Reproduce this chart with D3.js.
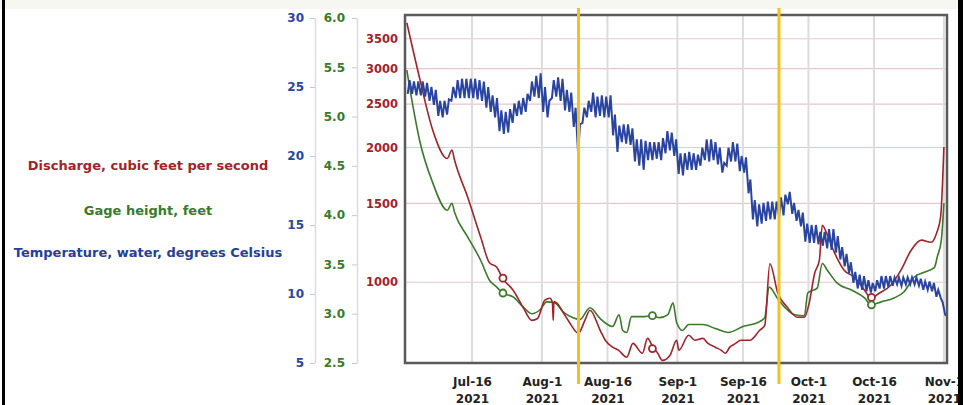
<!DOCTYPE html>
<html>
<head>
<meta charset="utf-8">
<script src="https://cdn.jsdelivr.net/npm/d3@7"></script>
<style>
  body { margin: 0; background: #fff; }
  svg { display: block; font-family: "DejaVu Sans", Verdana, sans-serif; }
  .tick text { font-weight: bold; }
</style>
</head>
<body>
<div id="chart"></div>
<script>
// daily water temperature, high and low of each day, Jul 1 .. Nov 1 2021
var tempHigh = [
  25.5,25.4,25.4,25.4,25.3,25.0,24.8,24.0,24.0,24.1,25.0,25.5,25.6,25.6,25.6,25.6,25.5,25.4,25.0,24.4,24.2,23.3,23.2,23.4,23.8,24.0,24.2,24.5,25.4,25.8,26.0,
  25.0,24.0,25.5,25.7,25.6,24.8,24.6,23.5,22.3,23.5,24.0,24.6,24.3,24.4,24.3,24.4,23.0,22.2,22.3,22.3,22.0,21.2,21.2,21.1,21.0,21.0,21.0,21.3,21.8,21.7,21.2,
  20.2,20.2,20.3,20.2,20.1,20.6,21.2,21.2,21.0,20.6,19.5,20.6,21.0,20.9,20.0,19.9,18.3,16.8,16.5,16.6,16.7,16.7,16.7,17.0,17.2,17.4,16.6,16.1,15.9,15.1,
  15.0,15.0,14.5,14.5,14.7,14.7,14.2,13.4,12.9,12.3,11.6,11.4,11.3,11.0,10.8,11.0,11.3,11.3,11.3,11.2,11.2,11.2,11.2,11.2,11.2,11.1,10.9,10.9,10.8,10.3,9.4,
  8.4
];
var tempLow = [
  24.5,24.5,24.4,24.4,24.3,24.0,23.7,22.9,22.8,23.0,24.0,24.2,24.2,24.2,24.2,24.2,24.1,24.0,23.5,23.2,22.8,21.8,21.6,21.7,22.4,22.9,23.0,23.2,24.0,24.3,24.2,
  23.2,22.8,24.2,24.3,24.0,23.3,23.2,22.1,20.1,22.4,22.8,23.2,22.8,22.9,22.8,22.8,21.5,20.3,21.0,20.9,20.8,19.6,19.3,19.0,19.7,19.7,19.8,19.7,20.2,20.4,20.0,
  18.7,18.6,19.0,19.0,19.0,19.3,19.7,19.6,19.7,19.4,18.8,19.3,19.6,19.6,18.9,18.8,17.3,15.4,14.9,15.1,15.3,15.4,15.4,15.6,15.7,16.5,15.8,15.3,14.9,13.8,
  13.7,13.7,13.6,13.5,13.3,13.2,13.0,12.5,12.0,11.5,10.8,10.4,10.3,10.2,10.1,10.2,10.4,10.4,10.5,10.6,10.7,10.6,10.7,10.7,10.7,10.6,10.3,10.3,10.2,9.8,9.7,
  8.5
];

var dischargeDates = [
  "07-01T02","07-04T00","07-07T00","07-10T08","07-11T10","07-12T00","07-15T00","07-18T00","07-20T00","07-21T16",
  "07-23T00","07-25T10","07-27T16","07-29T16","07-31T00","08-01T16","08-02T20","08-03T10","08-03T14","08-03T18",
  "08-04T10","08-05T20","08-07T10","08-09T08","08-10T20","08-12T00","08-14T08","08-15T12","08-17T04","08-18T12",
  "08-20T10","08-21T20","08-24T00","08-25T04","08-26T10","08-27T12","08-28T14","08-30T08","08-31T20","09-01T08",
  "09-03T14","09-05T00","09-06T20","09-08T00","09-09T16","09-11T00","09-12T00","09-13T00","09-14T08","09-15T12",
  "09-17T14","09-19T20","09-21T00","09-22T04","09-24T00","09-26T04","09-28T12","09-30T02","10-01T04","10-02T10",
  "10-03T12","10-04T04","10-05T08","10-07T00","10-09T04","10-11T12","10-13T20","10-15T08","10-17T04","10-19T20",
  "10-22T04","10-24T12","10-26T20","10-29T02","10-30T08","10-31T06","11-01T00"
];
var dischargeValues = [
  3800,2860,2190,1890,1975,1875,1550,1260,1105,1080,
  1020,960,880,822,830,912,921,900,822,905,
  898,857,810,769,822,866,781,742,716,705,
  680,730,694,749,716,694,669,687,742,705,
  761,742,749,730,716,705,694,716,730,742,
  742,781,801,1100,945,879,835,835,898,1047,
  1120,1341,1274,1162,1064,1026,960,921,945,985,
  1064,1179,1242,1228,1288,1400,2005
];

var gageDates = [
  "07-01T02","07-02T12","07-04T00","07-07T00","07-10T08","07-11T10","07-12T00","07-15T00","07-18T00","07-20T00",
  "07-21T16","07-23T00","07-25T10","07-27T16","07-29T16","07-31T14","08-02T02","08-04T00","08-05T20","08-08T02",
  "08-09T16","08-12T00","08-14T08","08-17T04","08-18T16","08-19T12","08-20T10","08-21T12","08-24T00","08-26T02",
  "08-28T00","08-29T20","08-31T00","08-31T20","09-02T04","09-03T14","09-06T20","09-09T16","09-12T16","09-16T00",
  "09-19T20","09-21T00","09-22T00","09-24T00","09-26T04","09-27T20","09-30T02","09-30T20","10-03T00","10-04T04",
  "10-05T08","10-07T14","10-10T20","10-13T20","10-15T08","10-17T16","10-20T14","10-22T20","10-25T04","10-27T12",
  "10-29T20","10-30T12","10-31T10","11-01T00"
];
var gageValues = [
  5.47,5.10,4.76,4.33,4.05,4.12,4.03,3.78,3.54,3.34,
  3.27,3.21,3.17,3.07,3.00,3.04,3.12,3.11,3.02,2.96,
  2.94,3.06,2.95,2.87,2.99,2.83,2.81,2.97,2.97,2.98,
  2.96,2.99,3.11,2.91,2.83,2.89,2.89,2.85,2.81,2.87,
  2.92,2.96,3.27,3.15,3.04,2.99,2.98,3.21,3.26,3.51,
  3.44,3.31,3.24,3.16,3.09,3.12,3.16,3.22,3.37,3.42,
  3.47,3.58,3.75,4.12
];

// field visit circles
var visitDates = ["07-23T02","08-26T07","10-15T10"];
var visitDischarge = [1021, 711, 925];
var visitGage = [3.21, 2.98, 3.09];

// yellow marker lines
var markerDates = ["08-09T09","09-24T06"];

var timeTicks = ["07-16","08-01","08-16","09-01","09-16","10-01","10-16","11-01"];
var dischargeTicks = [1000,1500,2000,2500,3000,3500];
var gageTicks = [2.5,3.0,3.5,4.0,4.5,5.0,5.5,6.0];
var tempTicks = [5,10,15,20,25,30];

var labels = [
  {text: "Discharge, cubic feet per second", color: "#a1232a"},
  {text: "Gage height, feet", color: "#3a7a2a"},
  {text: "Temperature, water, degrees Celsius", color: "#233f9a"}
];

var red = "#a1232a", green = "#3a7a2a", blue = "#2a45a0";
var font = "DejaVu Sans";

function parse(s) {
  return d3.timeParse("%Y-%m-%dT%H")("2021-" + (s.length == 5 ? s + "T00" : s));
}

var width = 963, height = 405;
var plot = {left: 405, top: 15, right: 947, bottom: 363};

var svg = d3.select("#chart")
  .append("svg")
  .attr("width", width)
  .attr("height", height);

// top strip
svg.append("rect").attr("x", 0).attr("y", 0).attr("width", width).attr("height", 9).attr("fill", "#f7f7f1");

var x = d3.scaleTime()
  .domain([new Date(2021, 5, 30, 16), new Date(2021, 10, 1, 17)])
  .range([plot.left, plot.right]);

var yQ = d3.scaleLog().domain([660, 3955]).range([plot.bottom, plot.top]);
var yG = d3.scaleLinear().domain([2.5, 6.0]).range([363, 18]);
var yT = d3.scaleLinear().domain([5, 30]).range([363, 18]);

// plot background
svg.append("rect")
  .attr("x", plot.left).attr("y", plot.top)
  .attr("width", plot.right - plot.left).attr("height", plot.bottom - plot.top)
  .attr("fill", "#fff");

// grid lines
svg.append("g")
  .selectAll("line")
  .data(dischargeTicks)
  .enter()
  .append("line")
  .attr("x1", plot.left).attr("x2", plot.right)
  .attr("y1", d => yQ(d)).attr("y2", d => yQ(d))
  .attr("stroke", "#e9c6cd").attr("stroke-width", 1.2);

svg.append("g")
  .selectAll("line")
  .data(timeTicks)
  .enter()
  .append("line")
  .attr("x1", d => x(parse(d))).attr("x2", d => x(parse(d)))
  .attr("y1", plot.top).attr("y2", plot.bottom)
  .attr("stroke", "#dcdcdc").attr("stroke-width", 2);

// bottom axis, two line labels
var xAxis = svg.append("g")
  .attr("transform", `translate(0, ${plot.bottom})`)
  .call(d3.axisBottom(x).tickValues(timeTicks.map(parse)).tickSize(0).tickFormat(""))
  .attr("font-family", font);
xAxis.select(".domain").remove();
xAxis.selectAll(".tick").each(function(d) {
  var t = d3.select(this).append("text")
    .attr("fill", "#222")
    .attr("font-size", "12px")
    .attr("font-weight", "bold")
    .attr("text-anchor", "middle");
  t.append("tspan").attr("x", 0).attr("y", 23).text(d3.timeFormat("%b-%-d")(d));
  t.append("tspan").attr("x", 0).attr("y", 40).text("2021");
});

// left axes
var qAxis = svg.append("g")
  .attr("transform", "translate(401,0)")
  .call(d3.axisLeft(yQ).tickValues(dischargeTicks).tickSize(0).tickPadding(3).tickFormat(d3.format("d")))
  .attr("font-family", font);
qAxis.select(".domain").remove();
qAxis.selectAll("text").attr("fill", red).attr("font-size", "11.5px");

var gAxis = svg.append("g")
  .attr("transform", "translate(357,0)")
  .call(d3.axisLeft(yG).tickValues(gageTicks).tickSize(5).tickSizeOuter(0).tickPadding(7).tickFormat(d3.format(".1f")))
  .attr("font-family", font);
gAxis.select(".domain").attr("stroke", "#dcdce6").attr("stroke-width", 1.5);
gAxis.selectAll("line").attr("stroke", "#c8c8d4");
gAxis.selectAll("text").attr("fill", green).attr("font-size", "12px");

var tAxis = svg.append("g")
  .attr("transform", "translate(315,0)")
  .call(d3.axisLeft(yT).tickValues(tempTicks).tickSize(5).tickSizeOuter(0).tickPadding(6))
  .attr("font-family", font);
tAxis.select(".domain").attr("stroke", "#dcdce6").attr("stroke-width", 1.5);
tAxis.selectAll("line").attr("stroke", "#c8c8d4");
tAxis.selectAll("text").attr("fill", blue).attr("font-size", "12px");

// series labels
svg.append("g")
  .selectAll("text")
  .data(labels)
  .enter()
  .append("text")
  .attr("x", 148)
  .attr("y", (d, i) => [170, 215, 257][i])
  .attr("text-anchor", "middle")
  .attr("font-size", "13px")
  .attr("font-weight", "bold")
  .attr("fill", d => d.color)
  .text(d => d.text);

// lines
svg.append("clipPath").attr("id", "clip")
  .append("rect")
  .attr("x", plot.left).attr("y", plot.top)
  .attr("width", plot.right - plot.left).attr("height", plot.bottom - plot.top);

var lines = svg.append("g").attr("clip-path", "url(#clip)");

var tempData = [];
tempHigh.forEach(function(h, i) {
  tempData.push({date: new Date(2021, 6, 1 + i, 7), value: tempLow[i]});
  tempData.push({date: new Date(2021, 6, 1 + i, 17), value: h});
});

var dischargeData = dischargeDates.map((d, i) => ({date: parse(d), value: dischargeValues[i]}));
var gageData = gageDates.map((d, i) => ({date: parse(d), value: gageValues[i]}));

lines.append("path")
  .datum(gageData)
  .attr("fill", "none").attr("stroke", green).attr("stroke-width", 1.6)
  .attr("d", d3.line().curve(d3.curveMonotoneX).x(d => x(d.date)).y(d => yG(d.value)));

lines.append("path")
  .datum(dischargeData)
  .attr("fill", "none").attr("stroke", red).attr("stroke-width", 1.6)
  .attr("d", d3.line().curve(d3.curveMonotoneX).x(d => x(d.date)).y(d => yQ(d.value)));

lines.append("path")
  .datum(tempData)
  .attr("fill", "none").attr("stroke", blue).attr("stroke-width", 2)
  .attr("d", d3.line().x(d => x(d.date)).y(d => yT(d.value)));

// visit circles
lines.selectAll(".vq")
  .data(visitDates)
  .enter()
  .append("circle")
  .attr("cx", d => x(parse(d)))
  .attr("cy", (d, i) => yQ(visitDischarge[i]))
  .attr("r", 3.5)
  .attr("fill", "#fff").attr("stroke", red).attr("stroke-width", 1.8);

lines.selectAll(".vg")
  .data(visitDates)
  .enter()
  .append("circle")
  .attr("cx", d => x(parse(d)))
  .attr("cy", (d, i) => yG(visitGage[i]))
  .attr("r", 3.5)
  .attr("fill", "#fff").attr("stroke", green).attr("stroke-width", 1.8);

// frame
svg.append("rect")
  .attr("x", plot.left).attr("y", plot.top)
  .attr("width", plot.right - plot.left).attr("height", plot.bottom - plot.top)
  .attr("fill", "none").attr("stroke", "#5a5a5a").attr("stroke-width", 2.5);

// yellow markers
svg.append("g")
  .selectAll("line")
  .data(markerDates)
  .enter()
  .append("line")
  .attr("x1", d => x(parse(d))).attr("x2", d => x(parse(d)))
  .attr("y1", 8).attr("y2", 384)
  .attr("stroke", "#f5c21b").attr("stroke-width", 3);

// page borders
svg.append("rect").attr("x", 2).attr("y", 0).attr("width", 3).attr("height", height).attr("fill", "#000");
svg.append("rect").attr("x", 958).attr("y", 0).attr("width", 5).attr("height", height).attr("fill", "#000");
</script>
</body>
</html>
